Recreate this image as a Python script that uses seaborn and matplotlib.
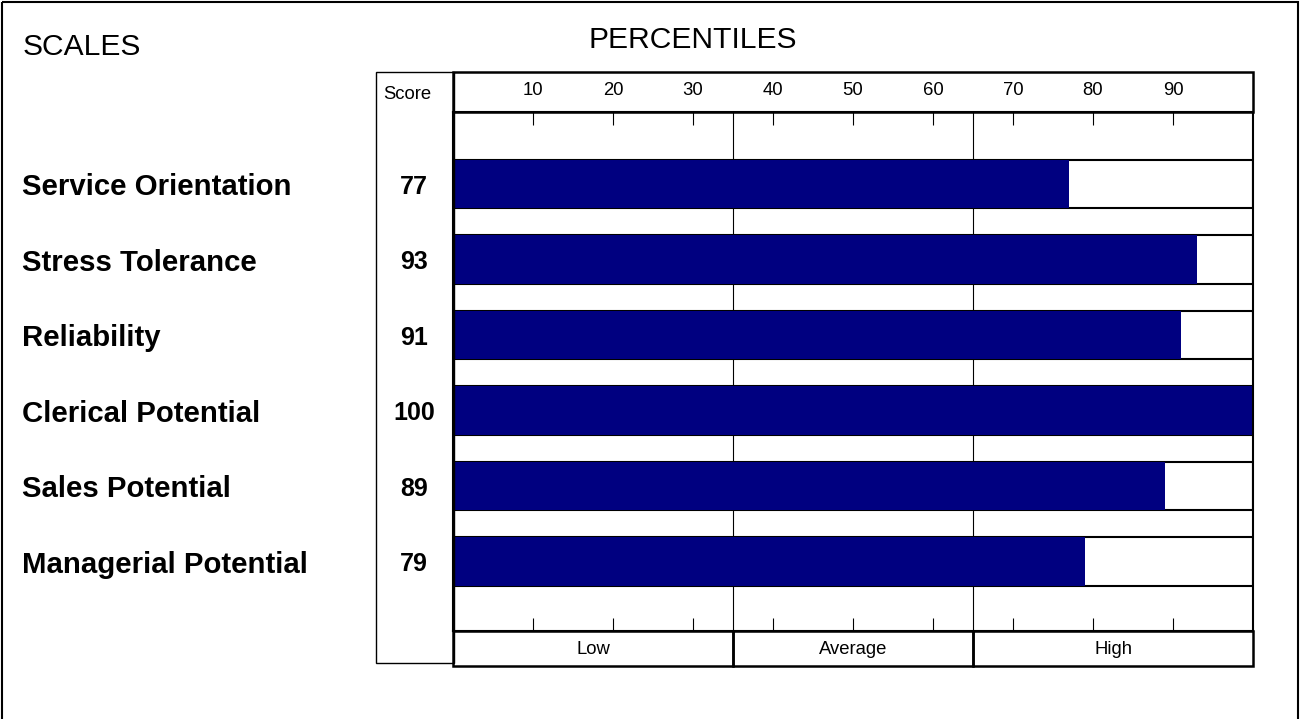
import matplotlib
matplotlib.use('Agg')
import matplotlib.pyplot as plt
import matplotlib.transforms as mtransforms
from matplotlib.patches import Rectangle
import seaborn as sns
import pandas as pd

# ---- data ----
scales = ["Service Orientation", "Stress Tolerance", "Reliability",
          "Clerical Potential", "Sales Potential", "Managerial Potential"]
scores = [77, 93, 91, 100, 89, 79]
percentile_ticks = [10, 20, 30, 40, 50, 60, 70, 80, 90]
band_labels = ["Low", "Average", "High"]
band_edges = [0, 35, 65, 100]

sns.set_theme(style='white')
plt.rcParams['font.family'] = ['Liberation Sans', 'DejaVu Sans']
plt.rcParams['text.color'] = 'black'

W, H = 1302, 719
fig = plt.figure(figsize=(W / 100, H / 100), dpi=100)
fig.patch.set_facecolor('white')


def fx(x):
    return x / W


def fy(y):
    return 1 - y / H


AX_TOP, AX_BOT = 112, 631
ax_h_px = AX_BOT - AX_TOP
ax = fig.add_axes([fx(453), fy(AX_BOT), fx(1253) - fx(453), fy(AX_TOP) - fy(AX_BOT)])
ax.set_facecolor('white')

df = pd.DataFrame({'scale': scales, 'score': scores, 'full': [100] * len(scales)})
sns.barplot(data=df, x='full', y='scale', orient='h', color='white', saturation=1,
            width=0.64, edgecolor='black', linewidth=1.5, ax=ax)
sns.barplot(data=df, x='score', y='scale', orient='h', color='#000080', saturation=1,
            width=0.64, linewidth=0, ax=ax)

ax.set_xlim(0, 100)
ax.set_ylim(5.92, -0.954)
ax.set_xlabel('')
ax.set_ylabel('')
ax.set_yticks([])
ax.set_xticks(percentile_ticks)
ax.tick_params(axis='x', top=True, bottom=True, direction='in', length=9.4, width=0.8,
               color='black', labelbottom=False, labeltop=False)
for sp in ax.spines.values():
    sp.set_color('black')
    sp.set_linewidth(1.5)

for v in band_edges[1:-1]:
    ax.axvline(v, color='black', lw=0.8, zorder=0.5)

# overlay in pixel coordinates
ov = fig.add_axes([0, 0, 1, 1])
ov.set_xlim(0, W)
ov.set_ylim(H, 0)
ov.axis('off')
ov.patch.set_alpha(0)

xt = ax.get_xaxis_transform()
# header box
ax.add_patch(Rectangle((0, 1), 100, 40 / ax_h_px, transform=xt, clip_on=False,
                       fill=False, lw=1.8, edgecolor='black'))
# footer band boxes
for lab, e0, e1 in zip(band_labels, band_edges[:-1], band_edges[1:]):
    ax.add_patch(Rectangle((e0, -35 / ax_h_px), e1 - e0, 35 / ax_h_px, transform=xt,
                           clip_on=False, fill=False, lw=1.8, edgecolor='black'))
    ov.text((e0 + e1) / 2, 654, lab, ha='center', va='baseline', fontsize=13.3,
            color='black',
            transform=mtransforms.blended_transform_factory(ax.transData, ov.transData))

# percentile labels in header
tb = mtransforms.blended_transform_factory(ax.transData, ov.transData)
for t in percentile_ticks:
    ov.text(t, 95, str(t), ha='center', va='baseline', fontsize=13.3, color='black',
            transform=tb)

# score column box
ov.add_patch(Rectangle((376, 72), 78, 591, fill=False, lw=1.0, edgecolor='black'))
ov.text(383, 99, "Score", ha='left', va='baseline', fontsize=13.3, color='black')

# titles
ov.text(23, 55, "SCALES", ha='left', va='baseline', fontsize=21.6, color='black')
ov.text(693, 48, "PERCENTILES", ha='center', va='baseline', fontsize=21.6, color='black')

# row labels and score numbers
rb = mtransforms.blended_transform_factory(ov.transData, ax.transData)
for i, (s, v) in enumerate(zip(scales, scores)):
    ov.text(22, i, s, ha='left', va='center_baseline', fontsize=21.2,
            fontweight='bold', color='black', transform=rb)
    ov.text(414, i, str(v), ha='center', va='center_baseline', fontsize=18,
            fontweight='bold', color='black', transform=rb)

# outer border (open at bottom)
ov.add_patch(Rectangle((2, 2), 1296, 740, fill=False, lw=1.5, edgecolor='black',
                       clip_on=False))

fig.savefig('out.png', dpi=100)
